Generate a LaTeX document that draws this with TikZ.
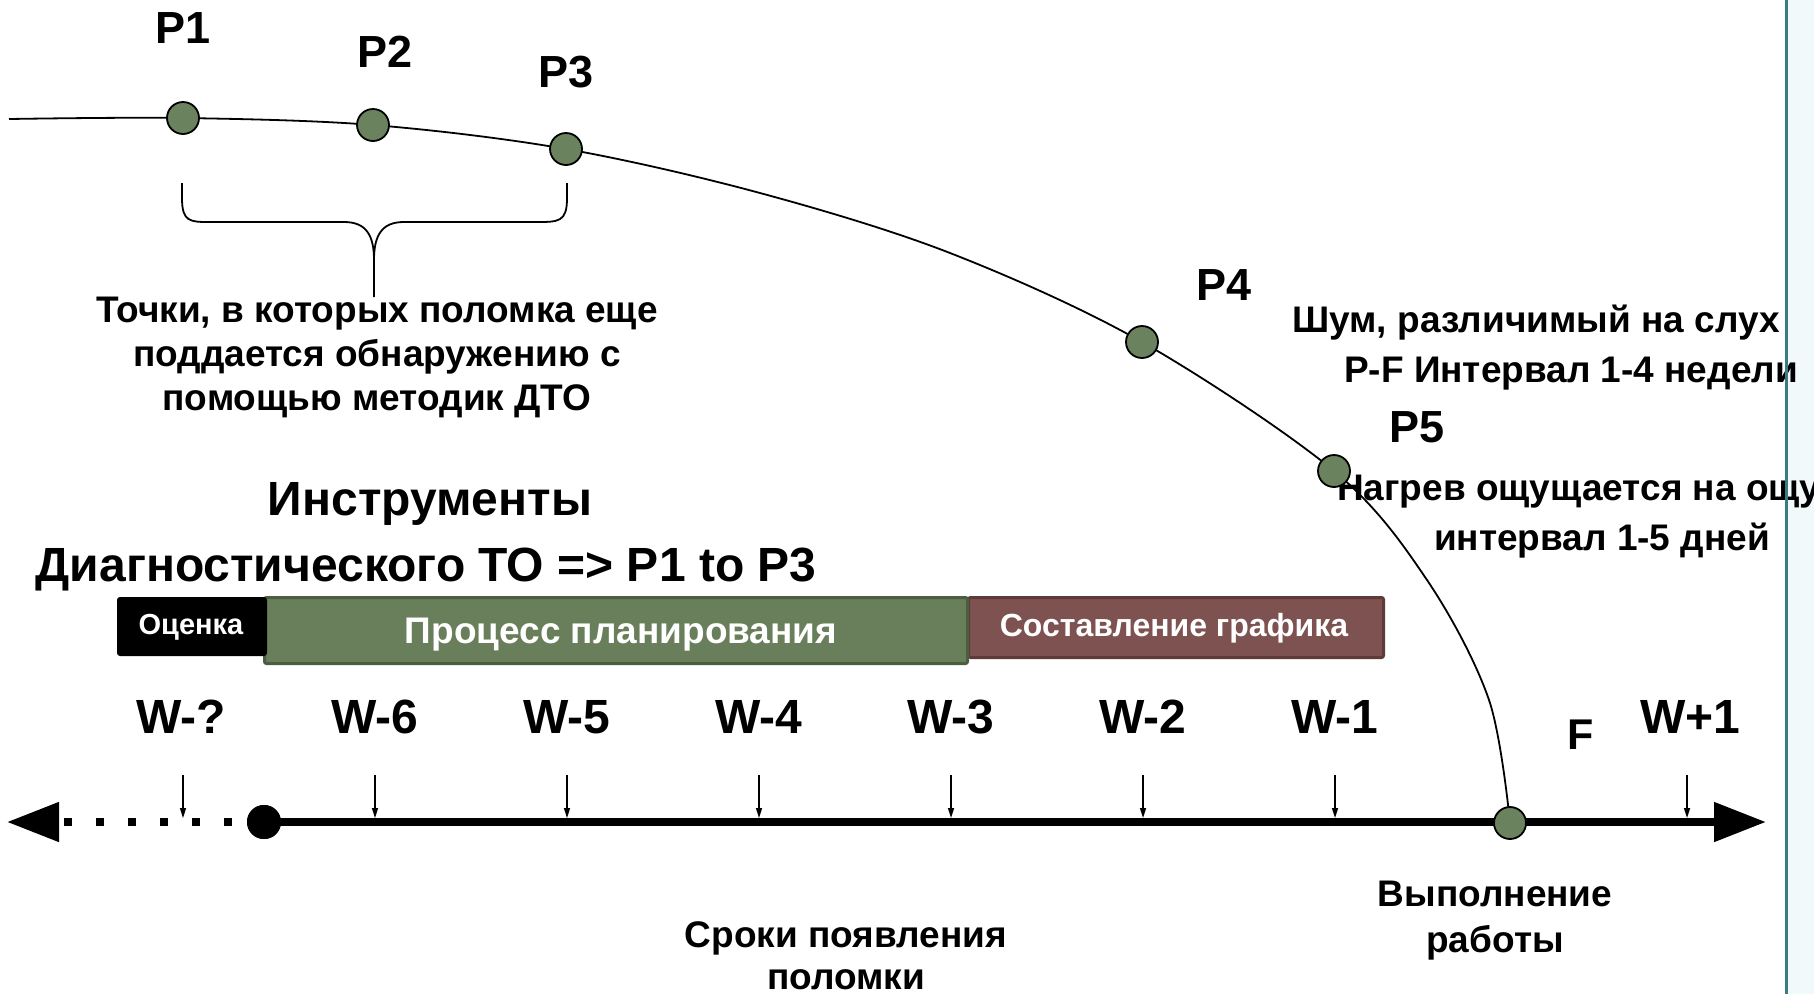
\documentclass[tikz,border=0pt]{standalone}
\usepackage{fontspec}
\setmainfont{Liberation Sans}
\usetikzlibrary{arrows.meta}
\newcommand\myfs[1]{\fontsize{#1}{#1}\selectfont}
\definecolor{dotgreen}{RGB}{106,130,94}
\definecolor{boxgreen}{RGB}{105,127,92}
\definecolor{boxgreenb}{RGB}{74,94,64}
\definecolor{boxbrown}{RGB}{126,82,80}
\definecolor{boxbrownb}{RGB}{94,58,56}
\definecolor{panelfill}{RGB}{242,249,251}
\definecolor{panelline}{RGB}{62,122,132}
\begin{document}
\begin{tikzpicture}[x=1pt,y=-1pt,
  txt/.style={inner sep=0pt, anchor=base},
  plabel/.style={txt, font=\bfseries\myfs{45}},
  wlabel/.style={txt, font=\bfseries\myfs{48}},
  body/.style={txt, font=\bfseries\myfs{37}},
  title/.style={txt, font=\bfseries\myfs{48}},
  pdot/.style={circle, draw=black, line width=1.8, fill=dotgreen, minimum size=32, inner sep=0pt},
  phase/.style={inner sep=0pt, text=white, font=\bfseries},
  tick/.style={line width=1.5, -{Triangle[length=10,width=6]}}
]
\useasboundingbox (0,0) rectangle (1814,994);
% right panel
\fill[panelfill] (1787,0) rectangle (1814,994);

% ---- degradation curve ----
\coordinate (c0) at (9,119);
\coordinate (cP1) at (183,118);
\coordinate (cP2) at (373,125);
\coordinate (cP3) at (566,149);
\coordinate (ca) at (760,193);
\coordinate (cb) at (950,253);
\coordinate (cP4) at (1142,342);
\coordinate (cP5) at (1334,471);
\coordinate (cc) at (1427,580);
\coordinate (cd) at (1489,700);
\coordinate (cF) at (1510,823);
\draw[line width=1.8] plot[smooth, tension=0.55] coordinates {(c0) (cP1) (cP2) (cP3) (ca) (cb) (cP4) (cP5) (cc) (cd) (cF)};

% ---- brace ----
\draw[line width=1.8] (182,183) -- (182,198) .. controls (182,222) and (190,222) .. (210,222) -- (344,222) .. controls (366,222) and (374,235) .. (374,260) -- (374,297);
\draw[line width=1.8] (567,183) -- (567,198) .. controls (567,222) and (559,222) .. (536,222) -- (404,222) .. controls (382,222) and (374,235) .. (374,260);

% ---- labels P ----
\node[plabel] (lP1) at (183,43) {P1};
\node[plabel] (lP2) at (385,67) {P2};
\node[plabel] (lP3) at (566,87) {P3};
\node[plabel] (lP4) at (1224,300) {P4};
\node[plabel] (lP5) at (1417,442) {P5};

% ---- texts ----
\node[body] (tA1) at (377,322) {Точки, в которых поломка еще};
\node[body] (tA2) at (377,366) {поддается обнаружению с};
\node[body] (tA3) at (377,410) {помощью методик ДТО};

\node[body] (tB1) at (1536,332) {Шум, различимый на слух};
\node[body] (tB2) at (1571,382) {P-F Интервал 1-4 недели};
\node[body, anchor=base west] (tC1) at (1337,500) {Нагрев ощущается на ощу};
\node[body] (tC2) at (1602,550) {интервал 1-5 дней};

\node[title] (tT1) at (430,515) {Инструменты};
\node[title] (tT2) at (426,581) {Диагностического ТО => P1 to P3};

\node[body] (tE1) at (1495,906) {Выполнение};
\node[body] (tE2) at (1495,952) {работы};
\node[body] (tS1) at (846,947) {Сроки появления};
\node[body] (tS2) at (846,989) {поломки};

% ---- phase boxes ----
\node[phase, fill=boxbrown, draw=boxbrownb, line width=3, rounded corners=2, minimum width=415, minimum height=60] (sched) at (1176,627.5) {};
\node[phase, font=\bfseries\myfs{32}] (schedT) at (1174,628.5) {Составление графика};
\node[phase, fill=boxgreen, draw=boxgreenb, line width=3, rounded corners=2, minimum width=703, minimum height=66] (plan) at (616,630.5) {};
\node[phase, font=\bfseries\myfs{37}] (planT) at (621,634.5) {Процесс планирования};
\node[phase, fill=black, rounded corners=3, minimum width=150, minimum height=59] (ocen) at (192,626.5) {};
\node[phase, font=\bfseries\myfs{29}] (ocenT) at (191,627) {Оценка};

% ---- W labels ----
\node[wlabel] (w0) at (181,733) {W-?};
\node[wlabel] (w6) at (375,733) {W-6};
\node[wlabel] (w5) at (567,733) {W-5};
\node[wlabel] (w4) at (759,733) {W-4};
\node[wlabel] (w3) at (951,733) {W-3};
\node[wlabel] (w2) at (1143,733) {W-2};
\node[wlabel] (w1) at (1335,733) {W-1};
\node[wlabel] (wp1) at (1690,733) {W+1};
\node[txt, font=\bfseries\myfs{43}] (lF) at (1581,749) {F};

% ---- timeline ----
\coordinate (ltip) at (7,822);
\coordinate (rtip) at (1766,822);
\node[circle, fill=black, minimum size=34, inner sep=0pt] (start) at (264,822) {};
\draw[line width=8, dash pattern=on 8 off 24, -{Triangle[length=52,width=38]}] (start.center) -- (ltip);
\draw[line width=8, -{Triangle[length=52,width=38]}] (start.center) -- (rtip);
\node[circle, fill=black, minimum size=34, inner sep=0pt] at (start) {};

% ticks
\foreach \i/\x in {0/183,6/375,5/567,4/759,3/951,2/1143,1/1335,p/1687}{
  \coordinate (ta\i) at (\x,775);
  \coordinate (tb\i) at (\x,818);
  \draw[tick] (ta\i) -- (tb\i);
}

% ---- dots ----
\node[pdot] (P1) at (cP1) {};
\node[pdot] (P2) at (cP2) {};
\node[pdot] (P3) at (cP3) {};
\node[pdot] (P4) at (cP4) {};
\node[pdot] (P5) at (cP5) {};
\node[pdot] (F) at (cF) {};

% panel line
\draw[panelline, line width=3] (1786,0) -- (1786,994);
\end{tikzpicture}
\end{document}
